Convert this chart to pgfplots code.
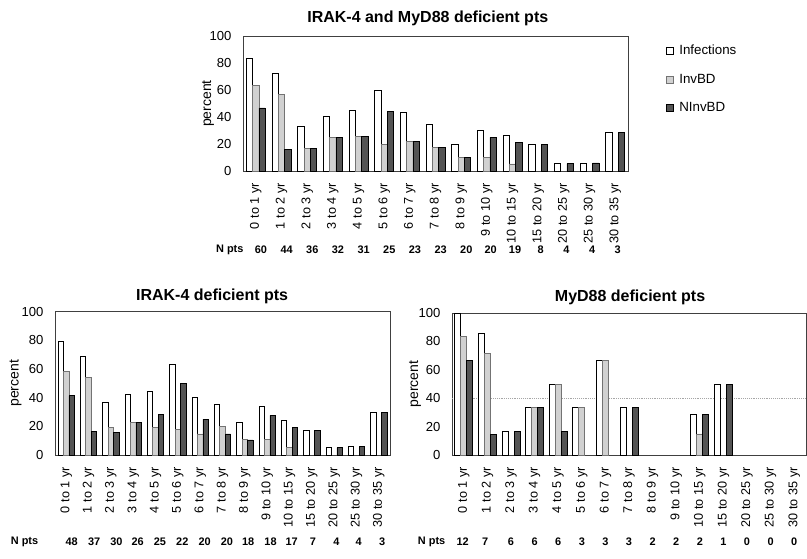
\documentclass[border=0pt]{standalone}
\usepackage{fontspec}
\setmainfont{Liberation Sans}
\usepackage{pgfplots}
\pgfplotsset{compat=1.18}
\definecolor{invbd}{gray}{0.82}
\definecolor{ninvbd}{gray}{0.33}
\tikzset{npts/.style={font=\bfseries\fontsize{8.2}{9}\selectfont, anchor=center}}
\pgfplotsset{
  chart/.style={
    scale only axis, ybar=0pt, ymin=0, ymax=100, xmin=-0.5, xmax=14.5,
    ytick={0,20,...,100}, xtick={0,...,14},
    xticklabels={0 to 1 yr,1 to 2 yr,2 to 3 yr,3 to 4 yr,4 to 5 yr,5 to 6 yr,6 to 7 yr,7 to 8 yr,8 to 9 yr,9 to 10 yr,10 to 15 yr,15 to 20 yr,20 to 25 yr,25 to 30 yr,30 to 35 yr},
    xticklabel style={rotate=90, anchor=east, font=\fontsize{9.5}{10}\selectfont, inner sep=0pt},
    xticklabel shift=9pt,
    yticklabel style={font=\fontsize{9.8}{10}\selectfont, inner sep=0pt},
    yticklabel shift=8.5pt,
    /pgf/number format/assume math mode=true,
    major tick length=0pt,
    axis line style={black!75, line width=0.5pt},
    clip=false,
    ylabel=percent,
    label style={font=\fontsize{10.5}{11}\selectfont},
    every axis title shift=0pt,
    title style={font=\bfseries\fontsize{12}{13}\selectfont, anchor=center},
    legend image code/.code={\draw[#1] (0pt,-2.6pt) rectangle (5.2pt,2.6pt);},
  },
  inf/.style={fill=white, draw=black, line width=0.5pt},
  inv/.style={fill=invbd, draw=black!55, line width=0.5pt},
  ninv/.style={fill=ninvbd, draw=black, line width=0.5pt},
}
\begin{document}
\begin{tikzpicture}
\path[use as bounding box] (0,0) rectangle (605.25pt,-418.5pt);
% ---------------- top chart
\begin{axis}[chart, at={(182.25pt,-128.25pt)}, anchor=south west,
  width=288.75pt, height=101.25pt, bar width=4.67pt,
  title={IRAK-4 and MyD88 deficient pts},
  title style={at={(axis description cs:0.48,1)}, yshift=13.5pt, anchor=center},
  ylabel style={at={(axis description cs:-0.0909,0.5)}, anchor=center},
  legend style={draw=none, fill=none, inner sep=0pt, at={(axis description cs:1.099,0.94)}, anchor=north west,
    row sep=12pt, font=\fontsize{10}{11}\selectfont, nodes={inner sep=0.5pt, anchor=west}},
  legend cell align=left]
\addplot[inf] coordinates {(0,83.3)(1,72.7)(2,33.3)(3,40.6)(4,45.2)(5,60)(6,43.5)(7,34.8)(8,20)(9,30)(10,26.3)(11,19.5)(12,5.5)(13,6)(14,28.5)};
\addplot[inv] coordinates {(0,63.3)(1,56.8)(2,16.7)(3,25)(4,25.8)(5,20)(6,21.7)(7,17.4)(8,10)(9,10)(10,5.3)};
\addplot[ninv] coordinates {(0,46.7)(1,15.9)(2,16.7)(3,25)(4,25.8)(5,44)(6,21.7)(7,17.4)(8,10)(9,25)(10,21.1)(11,19.5)(12,5.5)(13,6)(14,28.5)};
\legend{\hspace{3.5pt}Infections,\hspace{3.5pt}InvBD,\hspace{3.5pt}NInvBD}
\node[npts, anchor=east] at (axis cs:-0.3,-58.5) {N pts};
\node[npts] at (axis cs:0.2,-58.5) {60};
\node[npts] at (axis cs:1.2,-58.5) {44};
\node[npts] at (axis cs:2.2,-58.5) {36};
\node[npts] at (axis cs:3.2,-58.5) {32};
\node[npts] at (axis cs:4.2,-58.5) {31};
\node[npts] at (axis cs:5.2,-58.5) {25};
\node[npts] at (axis cs:6.2,-58.5) {23};
\node[npts] at (axis cs:7.2,-58.5) {23};
\node[npts] at (axis cs:8.2,-58.5) {20};
\node[npts] at (axis cs:9.15,-58.5) {20};
\node[npts] at (axis cs:10.1,-58.5) {19};
\node[npts] at (axis cs:11.1,-58.5) {8};
\node[npts] at (axis cs:12.1,-58.5) {4};
\node[npts] at (axis cs:13.1,-58.5) {4};
\node[npts] at (axis cs:14.1,-58.5) {3};
\end{axis}
% ---------------- bottom left
\begin{axis}[chart, at={(41.25pt,-341.25pt)}, anchor=south west,
  width=251.25pt, height=107.5pt, bar width=4.05pt,
  title={IRAK-4 deficient pts},
  title style={at={(axis description cs:0.469,1)}, yshift=11.8pt, anchor=center},
  ylabel style={at={(axis description cs:-0.118,0.5)}, anchor=center}]
\addplot[inf] coordinates {(0,79.5)(1,68.6)(2,36.5)(3,42.3)(4,44.2)(5,63.5)(6,40)(7,35.6)(8,22.6)(9,33.7)(10,24.4)(11,17.4)(12,5.1)(13,5.8)(14,29.5)};
\addplot[inv] coordinates {(0,58.1)(1,54.2)(2,19.5)(3,22.8)(4,19.5)(5,17.9)(6,14.7)(7,20.2)(8,10.9)(9,10.9)(10,5.1)};
\addplot[ninv] coordinates {(0,41.4)(1,16.7)(2,16)(3,22.8)(4,28.1)(5,50)(6,25.1)(7,14.7)(8,10.5)(9,27.7)(10,19.3)(11,17.4)(12,5.1)(13,5.8)(14,29.5)};
\node[npts, anchor=east] at (axis cs:-1.04,-60.7) {N pts};
\node[npts] at (axis cs:0.25,-60.7) {48};
\node[npts] at (axis cs:1.25,-60.7) {37};
\node[npts] at (axis cs:2.25,-60.7) {30};
\node[npts] at (axis cs:3.2,-60.7) {26};
\node[npts] at (axis cs:4.2,-60.7) {25};
\node[npts] at (axis cs:5.2,-60.7) {22};
\node[npts] at (axis cs:6.2,-60.7) {20};
\node[npts] at (axis cs:7.2,-60.7) {20};
\node[npts] at (axis cs:8.15,-60.7) {18};
\node[npts] at (axis cs:9.15,-60.7) {18};
\node[npts] at (axis cs:10.1,-60.7) {17};
\node[npts] at (axis cs:11.05,-60.7) {7};
\node[npts] at (axis cs:12.1,-60.7) {4};
\node[npts] at (axis cs:13.1,-60.7) {4};
\node[npts] at (axis cs:14.15,-60.7) {3};
\end{axis}
% ---------------- bottom right
\begin{axis}[chart, at={(339pt,-341.25pt)}, anchor=south west,
  width=265.5pt, height=106.5pt, bar width=4.5pt,
  title={MyD88 deficient pts},
  title style={at={(axis description cs:0.503,1)}, yshift=12pt, anchor=center},
  ylabel style={at={(axis description cs:-0.1045,0.5)}, anchor=center},
  extra y ticks={40}, extra y tick labels={},
  extra y tick style={grid=major, major grid style={black!35, densely dotted, line width=0.4pt}}]
\addplot[inf] coordinates {(0,100)(1,85.7)(2,16.7)(3,33.3)(4,50)(5,33.3)(6,66.7)(7,33.3)(10,28.7)(11,50)};
\addplot[inv] coordinates {(0,83.3)(1,71.4)(3,33.3)(4,50)(5,33.3)(6,66.7)(10,14.8)};
\addplot[ninv] coordinates {(0,66.7)(1,14.3)(2,16.7)(3,33.3)(4,16.7)(7,33.3)(10,28.7)(11,50)};
\node[npts, anchor=east] at (axis cs:-0.585,-61.3) {N pts};
\node[npts] at (axis cs:-0.05,-61.3) {12};
\node[npts] at (axis cs:0.9,-61.3) {7};
\node[npts] at (axis cs:2,-61.3) {6};
\node[npts] at (axis cs:3,-61.3) {6};
\node[npts] at (axis cs:4,-61.3) {6};
\node[npts] at (axis cs:5,-61.3) {3};
\node[npts] at (axis cs:6,-61.3) {3};
\node[npts] at (axis cs:7,-61.3) {3};
\node[npts] at (axis cs:8,-61.3) {2};
\node[npts] at (axis cs:9,-61.3) {2};
\node[npts] at (axis cs:10,-61.3) {2};
\node[npts] at (axis cs:11,-61.3) {1};
\node[npts] at (axis cs:12,-61.3) {0};
\node[npts] at (axis cs:13,-61.3) {0};
\node[npts] at (axis cs:14,-61.3) {0};
\end{axis}
\end{tikzpicture}
\end{document}
